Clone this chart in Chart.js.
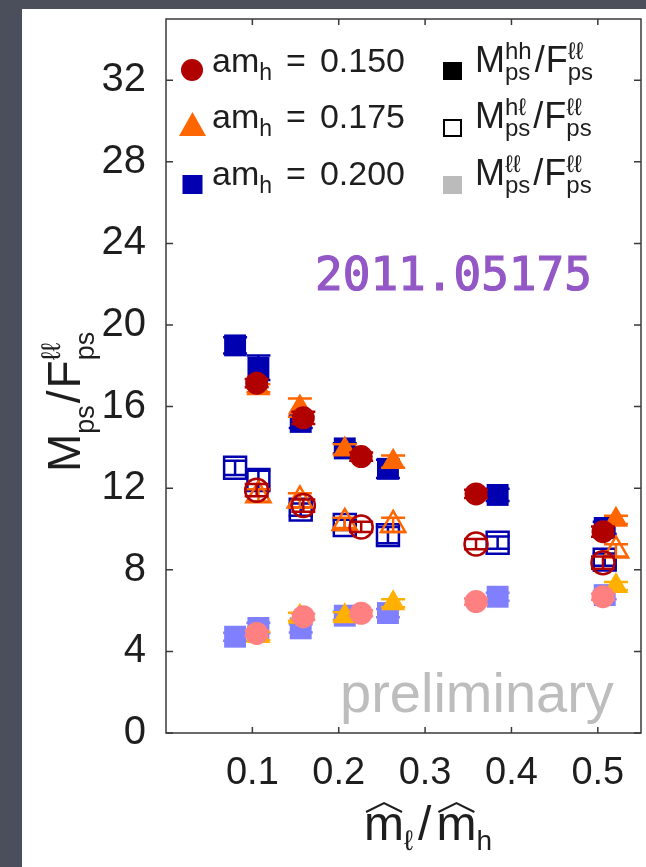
<!DOCTYPE html>
<html>
<head>
<meta charset="utf-8">
<script src="https://cdn.jsdelivr.net/npm/chart.js@4.4.1/dist/chart.umd.min.js"></script>
<style>
  html, body { margin: 0; padding: 0; background: #4b4f5b; }
  #wrap { width: 646px; height: 867px; }
</style>
</head>
<body>
<div id="wrap"><canvas id="c" width="646" height="867"></canvas></div>
<script>
// ---- data ----
const xTicks = [0.1, 0.2, 0.3, 0.4, 0.5];
const yTicks = [0, 4, 8, 12, 16, 20, 24, 28, 32];
const massLabels = ["0.150", "0.175", "0.200"];

// am_h = 0.150
const xRed = [0.105, 0.159, 0.226, 0.359, 0.506];
const hhRed = [17.15, 15.45, 13.55, 11.72, 9.87];
const hhRedErr = [0.2, 0.3, 0.2, 0.2, 0.25];
const hlRed = [11.9, 11.15, 10.1, 9.26, 8.35];
const hlRedErr = [0.3, 0.3, 0.25, 0.25, 0.3];
const llRed = [4.88, 5.7, 5.87, 6.44, 6.68];
const llRedErr = [0.15, 0.15, 0.15, 0.15, 0.15];

// am_h = 0.175
const xOrange = [0.107, 0.155, 0.207, 0.263, 0.521];
const hhOrange = [16.9, 15.95, 13.9, 13.3, 10.45];
const hhOrangeErr = [0.2, 0.45, 0.25, 0.3, 0.2];
const hlOrange = [11.65, 11.4, 10.3, 10.2, 8.95];
const hlOrangeErr = [0.3, 0.35, 0.25, 0.35, 0.3];
const llOrange = [4.75, 5.7, 5.72, 6.36, 7.2];
const llOrangeErr = [0.2, 0.2, 0.2, 0.2, 0.2];

// am_h = 0.200
const xBlue = [0.080, 0.107, 0.156, 0.207, 0.257, 0.384, 0.508];
const hhBlue = [19.0, 17.9, 15.25, 13.95, 12.95, 11.67, 10.05];
const hhBlueErr = [0.4, 0.6, 0.3, 0.25, 0.45, 0.3, 0.3];
const hlBlue = [13.0, 12.4, 10.95, 10.2, 9.7, 9.33, 8.5];
const hlBlueErr = [0.35, 0.45, 0.3, 0.25, 0.4, 0.3, 0.3];
const llBlue = [4.72, 5.15, 5.13, 5.75, 5.88, 6.68, 6.76];
const llBlueErr = [0.2, 0.25, 0.2, 0.2, 0.2, 0.2, 0.2];

// ---- styles ----
const FONT = '"Liberation Sans", Arial, sans-serif';
const RED = "#b00000", RED_L = "#ff8080";
const ORANGE = "#ff6600", ORANGE_L = "#ffb000";
const BLUE = "#0000b0", BLUE_L = "#8080ff";
const TXT = "#1e1e1e";

const SIZE = { circle: 11.5, triangle: 14, rect: 15.5 };

function makeSet(label, xs, ys, errs, color, style, filled, order) {
  return {
    label,
    data: xs.map((x, i) => ({ x, y: ys[i] })),
    errors: errs,
    pointStyle: style,
    pointRadius: SIZE[style],
    pointHoverRadius: SIZE[style],
    backgroundColor: filled ? color : "rgba(0,0,0,0)",
    borderColor: color,
    borderWidth: filled ? 0 : 2.5,
    showLine: false,
    order
  };
}

const datasets = [
  makeSet("hh 0.150", xRed, hhRed, hhRedErr, RED, "circle", true, 1),
  makeSet("hl 0.150", xRed, hlRed, hlRedErr, RED, "circle", false, 1),
  makeSet("ll 0.150", xRed, llRed, llRedErr, RED_L, "circle", true, 1),
  makeSet("hh 0.175", xOrange, hhOrange, hhOrangeErr, ORANGE, "triangle", true, 2),
  makeSet("hl 0.175", xOrange, hlOrange, hlOrangeErr, ORANGE, "triangle", false, 2),
  makeSet("ll 0.175", xOrange, llOrange, llOrangeErr, ORANGE_L, "triangle", true, 2),
  makeSet("hh 0.200", xBlue, hhBlue, hhBlueErr, BLUE, "rect", true, 3),
  makeSet("hl 0.200", xBlue, hlBlue, hlBlueErr, BLUE, "rect", false, 3),
  makeSet("ll 0.200", xBlue, llBlue, llBlueErr, BLUE_L, "rect", true, 3)
];

// text with sub/superscripts, returns end x
function rich(ctx, x, y, parts) {
  for (const p of parts) {
    if (p.gap) { x += p.gap; continue; }
    ctx.font = `${p.s}px ${FONT}`;
    if (p.t) {
      ctx.fillText(p.t, x, y);
      x += ctx.measureText(p.t).width;
    } else {
      let w = 0;
      if (p.sup) { ctx.fillText(p.sup, x, y - p.up); w = Math.max(w, ctx.measureText(p.sup).width); }
      if (p.sub) { ctx.fillText(p.sub, x, y + p.down); w = Math.max(w, ctx.measureText(p.sub).width); }
      x += w;
    }
  }
  return x;
}

// background + white panel
const panelPlugin = {
  id: "panel",
  beforeDraw(chart) {
    const ctx = chart.ctx;
    ctx.save();
    ctx.fillStyle = "#4b4f5b";
    ctx.fillRect(0, 0, chart.width, chart.height);
    ctx.fillStyle = "#ffffff";
    ctx.fillRect(22, 9, chart.width - 22, chart.height - 9);
    ctx.restore();
  }
};

// error bars, drawn just before each dataset's markers
const errorBarPlugin = {
  id: "errorBars",
  beforeDatasetDraw(chart, args) {
    const ds = chart.data.datasets[args.index];
    const xs = chart.scales.x, ys = chart.scales.y;
    const ctx = chart.ctx;
    ctx.save();
    ctx.strokeStyle = ds.borderColor;
    ctx.lineWidth = 2.5;
    ds.data.forEach((p, i) => {
      const e = ds.errors[i];
      const px = xs.getPixelForValue(p.x);
      const top = ys.getPixelForValue(p.y + e);
      const bot = ys.getPixelForValue(p.y - e);
      ctx.beginPath();
      ctx.moveTo(px, top); ctx.lineTo(px, bot);
      ctx.moveTo(px - 12, top); ctx.lineTo(px + 12, top);
      ctx.moveTo(px - 12, bot); ctx.lineTo(px + 12, bot);
      ctx.stroke();
    });
    ctx.restore();
  }
};

// frame, inward ticks, titles, legend, annotations
const decorPlugin = {
  id: "decor",
  afterDraw(chart) {
    const ctx = chart.ctx;
    const a = chart.chartArea;
    const xs = chart.scales.x, ys = chart.scales.y;
    ctx.save();

    // frame
    ctx.strokeStyle = "#3a3a3a";
    ctx.lineWidth = 1.5;
    ctx.strokeRect(a.left, a.top, a.right - a.left, a.bottom - a.top);
    ctx.beginPath();
    xTicks.forEach(v => {
      const px = xs.getPixelForValue(v);
      ctx.moveTo(px, a.bottom); ctx.lineTo(px, a.bottom - 6);
      ctx.moveTo(px, a.top); ctx.lineTo(px, a.top + 6);
    });
    yTicks.forEach(v => {
      const py = ys.getPixelForValue(v);
      ctx.moveTo(a.left, py); ctx.lineTo(a.left + 7, py);
      ctx.moveTo(a.right, py); ctx.lineTo(a.right - 7, py);
    });
    ctx.stroke();

    // watermark texts
    ctx.textBaseline = "alphabetic";
    ctx.textAlign = "left";
    ctx.fillStyle = "#bdbdbd";
    ctx.font = `56px ${FONT}`;
    ctx.fillText("preliminary", 340, 712);

    ctx.fillStyle = "#9357c6";
    ctx.strokeStyle = "#9357c6";
    ctx.lineWidth = 1.2;
    ctx.font = '46px "DejaVu Sans Mono", monospace';
    ctx.fillText("2011.05175", 315, 290);
    ctx.strokeText("2011.05175", 315, 290);

    // y title (rotated)
    ctx.fillStyle = TXT;
    ctx.save();
    ctx.translate(80, 472);
    ctx.rotate(-Math.PI / 2);
    rich(ctx, 0, 0, [
      { t: "M", s: 46 },
      { sub: "ps", s: 27, down: 14 },
      { gap: 2 },
      { t: "/", s: 46 },
      { gap: 2 },
      { t: "F", s: 46 },
      { sup: "ℓℓ", sub: "ps", s: 27, up: 20, down: 14 }
    ]);
    ctx.restore();

    // x title  m̂_ℓ / m̂_h
    const xf = 48, xsf = 28, base = 840;
    ctx.font = `${xf}px ${FONT}`;
    const mw = ctx.measureText("m").width;
    const slw = ctx.measureText("/").width;
    ctx.font = `${xsf}px ${FONT}`;
    const lw = ctx.measureText("ℓ").width;
    const hw = ctx.measureText("h").width;
    const total = mw + lw + 5 + slw + 5 + mw + hw;
    const hat = (x, w) => {
      ctx.beginPath();
      ctx.lineWidth = 2;
      ctx.strokeStyle = TXT;
      ctx.moveTo(x + 2, base - 28);
      ctx.lineTo(x + w / 2, base - 37);
      ctx.lineTo(x + w - 2, base - 28);
      ctx.stroke();
    };
    let cx = 428 - total / 2;
    hat(cx, mw);
    cx = rich(ctx, cx, base, [{ t: "m", s: xf }, { sub: "ℓ", s: xsf, down: 10 }, { gap: 5 }, { t: "/", s: xf }, { gap: 5 }]);
    hat(cx, mw);
    rich(ctx, cx, base, [{ t: "m", s: xf }, { sub: "h", s: xsf, down: 10 }]);

    // legend, left column
    const rowsY = [72, 128, 185];
    ctx.fillStyle = RED;
    ctx.beginPath(); ctx.arc(192, 70, 11, 0, Math.PI * 2); ctx.fill();
    ctx.fillStyle = ORANGE;
    ctx.beginPath();
    ctx.moveTo(192.5, 112); ctx.lineTo(206, 136); ctx.lineTo(179, 136); ctx.closePath(); ctx.fill();
    ctx.fillStyle = BLUE;
    ctx.fillRect(182.5, 175, 20, 19);

    ctx.fillStyle = TXT;
    massLabels.forEach((m, i) => {
      rich(ctx, 212, rowsY[i], [
        { t: "am", s: 34 },
        { sub: "h", s: 23, down: 8 },
        { gap: 14 },
        { t: "=", s: 34 },
        { gap: 14 },
        { t: m, s: 34 }
      ]);
    });

    // legend, right column
    ctx.fillStyle = "#000000";
    ctx.fillRect(443, 62, 19, 18);
    ctx.strokeStyle = "#000000";
    ctx.lineWidth = 2;
    ctx.strokeRect(444, 120, 17, 16);
    ctx.fillStyle = "#bbbbbb";
    ctx.fillRect(443, 176, 19, 18);

    ctx.fillStyle = TXT;
    const sups = ["hh", "hℓ", "ℓℓ"];
    sups.forEach((sp, i) => {
      rich(ctx, 475, rowsY[i], [
        { t: "M", s: 36 },
        { sup: sp, sub: "ps", s: 24, up: 13, down: 8 },
        { gap: 3 },
        { t: "/", s: 36 },
        { gap: 1 },
        { t: "F", s: 36 },
        { sup: "ℓℓ", sub: "ps", s: 24, up: 13, down: 8 }
      ]);
    });

    ctx.restore();
  }
};

const chart = new Chart(document.getElementById("c"), {
  type: "scatter",
  data: { datasets },
  options: {
    responsive: false,
    animation: false,
    devicePixelRatio: 1,
    layout: { autoPadding: false, padding: { top: 19, right: 5, left: 0, bottom: 0 } },
    plugins: { legend: { display: false }, tooltip: { enabled: false } },
    scales: {
      x: {
        type: "linear",
        min: 0,
        max: 0.55,
        afterBuildTicks: s => { s.ticks = xTicks.map(v => ({ value: v })); },
        afterFit: s => { s.height = 134; s.paddingLeft = 0; s.paddingRight = 0; },
        grid: { display: false, drawTicks: false },
        border: { display: false },
        ticks: {
          font: { family: FONT, size: 38 },
          color: TXT,
          padding: 18,
          maxRotation: 0,
          autoSkip: false,
          callback: v => v.toFixed(1)
        }
      },
      y: {
        type: "linear",
        min: 0,
        max: 35,
        afterBuildTicks: s => { s.ticks = yTicks.map(v => ({ value: v })); },
        afterFit: s => { s.width = 166; s.paddingTop = 0; s.paddingBottom = 0; },
        grid: { display: false, drawTicks: false },
        border: { display: false },
        ticks: {
          font: { family: FONT, size: 40 },
          color: TXT,
          padding: 20,
          autoSkip: false,
          callback: v => String(v)
        }
      }
    }
  },
  plugins: [panelPlugin, errorBarPlugin, decorPlugin]
});
</script>
</body>
</html>
